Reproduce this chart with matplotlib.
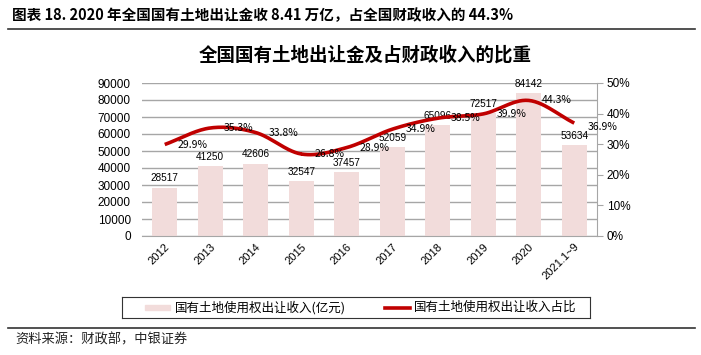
import numpy as np
import matplotlib
matplotlib.use("Agg")
import matplotlib.pyplot as plt
from matplotlib.lines import Line2D

plt.rcParams['font.family'] = ['Noto Sans CJK SC', 'DejaVu Sans']

categories = ["2012", "2013", "2014", "2015", "2016", "2017", "2018", "2019", "2020", "2021.1~9"]
revenue = [28517, 41250, 42606, 32547, 37457, 52059, 65096, 72517, 84142, 53634]
ratio = [29.9, 35.3, 33.8, 26.8, 28.9, 34.9, 38.5, 39.9, 44.3, 36.9]
left_ticks = [0, 10000, 20000, 30000, 40000, 50000, 60000, 70000, 80000, 90000]
right_ticks = [0, 10, 20, 30, 40, 50]

W, H = 701, 355
fig = plt.figure(figsize=(W / 100, H / 100), dpi=100)

def px(x0, y0, x1, y1):
    return [x0 / W, 1 - y1 / H, (x1 - x0) / W, (y1 - y0) / H]

# header
fig.text(12 / W, 1 - 15 / H, "图表 18. 2020 年全国国有土地出让金收 8.41 万亿，占全国财政收入的 44.3%",
         fontsize=10.5, fontweight='bold', va='center', ha='left')
fig.add_artist(Line2D([8 / W, 695 / W], [1 - 29 / H, 1 - 29 / H], color='#333333', lw=1.2))
fig.add_artist(Line2D([8 / W, 695 / W], [1 - 328 / H, 1 - 328 / H], color='#333333', lw=1.2))
fig.text(15 / W, 1 - 340 / H, "资料来源：财政部，中银证券", fontsize=9.5,
         va='center', ha='left', color='#222222')

fig.text(365 / W, 1 - 55 / H, "全国国有土地出让金及占财政收入的比重", fontsize=13.3,
         fontweight='bold', va='center', ha='center')

ax = fig.add_axes(px(142, 83, 597, 236))
x = np.arange(len(categories))
bar_color = '#f2dcdb'
line_color = '#c00000'
ax.bar(x, revenue, width=0.55, color=bar_color, zorder=2)
ax.set_xlim(-0.5, len(categories) - 0.5)
ax.set_ylim(0, 90000)
ax.set_yticks(left_ticks)
ax.set_yticklabels([str(v) for v in left_ticks], fontsize=8.5, family=['Liberation Sans', 'DejaVu Sans'])
ax.yaxis.grid(True, color='#a6a6a6', lw=1, zorder=0)
ax.set_axisbelow(True)
for s in ['top', 'left', 'right']:
    ax.spines[s].set_visible(False)
ax.spines['bottom'].set_color('#a6a6a6')
ax.tick_params(axis='y', length=0, pad=8)
ax.tick_params(axis='x', length=0, pad=4)
ax.set_xticks(x)
ax.set_xticklabels(categories, rotation=45, ha='right', rotation_mode='anchor', fontsize=8,
                   family=['Liberation Sans', 'DejaVu Sans'])
for xi, v in zip(x, revenue):
    ax.annotate(str(v), (xi, v), xytext=(0, 3), textcoords='offset points', ha='center',
                va='bottom', fontsize=7.2, family=['Liberation Sans', 'DejaVu Sans'], zorder=5)

ax2 = ax.twinx()
ax2.set_ylim(0, 50)
ax2.set_yticks(right_ticks)
ax2.set_yticklabels([f"{v}%" for v in right_ticks], fontsize=8.5, family=['Liberation Sans', 'DejaVu Sans'])
for s in ['top', 'left', 'bottom']:
    ax2.spines[s].set_visible(False)
ax2.spines['right'].set_color('#a6a6a6')
ax2.tick_params(axis='y', length=4, color='#a6a6a6', direction='out', pad=3)

# smooth (Catmull-Rom) curve through data points
pts = np.column_stack([x, ratio]).astype(float)
ext = np.vstack([pts[0] - (pts[1] - pts[0]), pts, pts[-1] + (pts[-1] - pts[-2])])
cx, cy = [], []
tt = np.linspace(0, 1, 30)
for i in range(1, len(ext) - 2):
    p0, p1, p2, p3 = ext[i - 1], ext[i], ext[i + 1], ext[i + 2]
    for t in tt:
        t2, t3 = t * t, t * t * t
        p = 0.5 * ((2 * p1) + (-p0 + p2) * t + (2 * p0 - 5 * p1 + 4 * p2 - p3) * t2 + (-p0 + 3 * p1 - 3 * p2 + p3) * t3)
        cx.append(p[0]); cy.append(p[1])
ax2.plot(cx, cy, color=line_color, lw=2.6, zorder=4, solid_capstyle='butt')
n = len(ratio)
for i, (xi, v) in enumerate(zip(x, ratio)):
    dy = -3 if i == n - 1 else 0
    ax2.annotate(f"{v:.1f}%", (xi, v), xytext=(9.5, dy), textcoords='offset points', ha='left',
                 va='center', fontsize=7.5, zorder=6)

# legend
lax = fig.add_axes(px(122, 297, 590, 318))
lax.set_xlim(0, 1); lax.set_ylim(0, 1)
lax.set_xticks([]); lax.set_yticks([])
for s in lax.spines.values():
    s.set_color('#333333'); s.set_linewidth(0.8)
lw_ = 468
lax.add_patch(plt.Rectangle(((145 - 122) / lw_, 0.4), 25 / lw_, 0.2, color=bar_color))
lax.text((175 - 122) / lw_, 0.5, "国有土地使用权出让收入(亿元)", fontsize=9, va='center', ha='left')
lax.plot([(385 - 122) / lw_, (410 - 122) / lw_], [0.5, 0.5], color=line_color, lw=2.6)
lax.text((414 - 122) / lw_, 0.5, "国有土地使用权出让收入占比", fontsize=9, va='center', ha='left')

fig.savefig("out.png", dpi=100)
